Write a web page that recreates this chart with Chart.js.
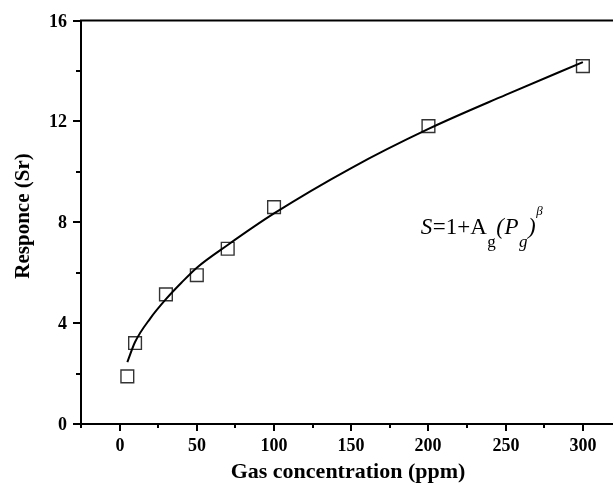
<!DOCTYPE html>
<html>
<head>
<meta charset="utf-8">
<script src="https://cdn.jsdelivr.net/npm/chart.js@4.4.0/dist/chart.umd.min.js"></script>
<style>
    html, body { margin: 0; padding: 0; overflow: hidden; background: #fff; }
    canvas { display: block; }
</style>
</head>
<body>
<canvas id="respuestaChart" width="640" height="485"></canvas>
<script>
// Puntos medidos
const concentraciones = [5, 10, 30, 50, 70, 100, 200, 300];
const respuestas = [1.89, 3.21, 5.14, 5.90, 6.95, 8.60, 11.81, 14.19];

// Curva de ajuste
const ajusteX = [5, 10, 20, 30, 40, 50, 70, 100, 150, 200, 250, 300];
const ajusteY = [2.45, 3.25, 4.2, 4.95, 5.6, 6.2, 7.1, 8.35, 10.15, 11.7, 13.05, 14.35];

// Etiquetas de los ejes
const etiquetasX = [0, 50, 100, 150, 200, 250, 300];
const etiquetasY = [0, 4, 8, 12, 16];

const FUENTE = '"Liberation Serif", "Times New Roman", serif';

// Función para dibujar la fórmula con subíndices
function dibujarFormula(ctx, x, y) {
    const partes = [
        { t: 'S', f: 'italic 23px ' + FUENTE, dy: 0 },
        { t: '=1+A', f: '23px ' + FUENTE, dy: 0 },
        { t: 'g', f: '17px ' + FUENTE, dy: 13 },
        { t: '(', f: 'italic 23px ' + FUENTE, dy: 0 },
        { t: 'P', f: 'italic 23px ' + FUENTE, dy: 0 },
        { t: 'g', f: 'italic 17px ' + FUENTE, dy: 13 },
        { t: ')', f: 'italic 23px ' + FUENTE, dy: 0 },
        { t: 'β', f: 'italic 13px ' + FUENTE, dy: -19 }
    ];
    ctx.textAlign = 'left';
    ctx.textBaseline = 'alphabetic';
    let px = x;
    partes.forEach(p => {
        ctx.font = p.f;
        ctx.fillText(p.t, px, y + p.dy);
        px += ctx.measureText(p.t).width + 0.5;
    });
}

// Plugin para marcas, etiquetas y títulos
const ejesPlugin = {
    id: 'ejes',
    afterDraw(chart) {
        const ctx = chart.ctx;
        const { left, right, top, bottom } = chart.chartArea;
        const sx = chart.scales.x;
        const sy = chart.scales.y;
        ctx.save();
        ctx.strokeStyle = '#000';
        ctx.fillStyle = '#000';
        ctx.lineWidth = 2;

        // Borde superior
        ctx.beginPath();
        ctx.moveTo(left - 1, top);
        ctx.lineTo(right, top);
        ctx.stroke();

        // Marcas y etiquetas del eje X
        ctx.font = 'bold 18px ' + FUENTE;
        ctx.textAlign = 'center';
        ctx.textBaseline = 'middle';
        sx.ticks.forEach(t => {
            const px = Math.round(sx.getPixelForValue(t.value));
            const mayor = etiquetasX.includes(t.value);
            ctx.beginPath();
            ctx.moveTo(px, bottom);
            ctx.lineTo(px, bottom + (mayor ? 7 : 4));
            ctx.stroke();
            if (mayor) ctx.fillText(String(t.value), px, bottom + 22);
        });

        // Marcas y etiquetas del eje Y
        ctx.textAlign = 'right';
        sy.ticks.forEach(t => {
            const py = Math.round(sy.getPixelForValue(t.value));
            const mayor = etiquetasY.includes(t.value);
            ctx.beginPath();
            ctx.moveTo(left, py);
            ctx.lineTo(left - (mayor ? 8 : 5), py);
            ctx.stroke();
            if (mayor) ctx.fillText(String(t.value), left - 14, py + 1);
        });

        // Títulos
        ctx.font = 'bold 22px ' + FUENTE;
        ctx.textAlign = 'center';
        ctx.textBaseline = 'alphabetic';
        ctx.fillText('Gas concentration (ppm)', 348, 478);

        ctx.save();
        ctx.translate(24, 216);
        ctx.rotate(-Math.PI / 2);
        ctx.font = 'bold 21px ' + FUENTE;
        ctx.textBaseline = 'middle';
        ctx.fillText('Responce (Sr)', 0, 0);
        ctx.restore();

        // Fórmula
        dibujarFormula(ctx, sx.getPixelForValue(195), sy.getPixelForValue(7.52));
        ctx.restore();
    }
};

document.addEventListener('DOMContentLoaded', function() {
    new Chart(document.getElementById('respuestaChart'), {
        type: 'scatter',
        data: {
            datasets: [{
                label: 'Ajuste',
                data: ajusteX.map((x, i) => ({ x: x, y: ajusteY[i] })),
                showLine: true,
                borderColor: '#000',
                borderWidth: 2,
                pointRadius: 0,
                cubicInterpolationMode: 'monotone',
                fill: false
            }, {
                label: 'Respuesta',
                data: concentraciones.map((x, i) => ({ x: x, y: respuestas[i] })),
                pointStyle: 'rect',
                pointRadius: 9,
                pointBorderWidth: 1.4,
                pointBorderColor: '#333',
                pointBackgroundColor: 'rgba(0,0,0,0)'
            }]
        },
        options: {
            responsive: false,
            animation: false,
            layout: {
                padding: { left: 81, top: 20.5, right: 18.5, bottom: 61 }
            },
            plugins: {
                legend: { display: false },
                tooltip: { enabled: false }
            },
            scales: {
                x: {
                    type: 'linear',
                    min: -25,
                    max: 325,
                    grid: { display: false },
                    border: { display: true, color: '#000', width: 2 },
                    ticks: { display: false, stepSize: 25 },
                    afterFit: function(scale) { scale.height = 0; }
                },
                y: {
                    type: 'linear',
                    min: 0,
                    max: 16,
                    grid: { display: false },
                    border: { display: true, color: '#000', width: 2 },
                    ticks: { display: false, stepSize: 2 },
                    afterFit: function(scale) { scale.width = 0; }
                }
            }
        },
        plugins: [ejesPlugin]
    });
});
</script>
</body>
</html>
